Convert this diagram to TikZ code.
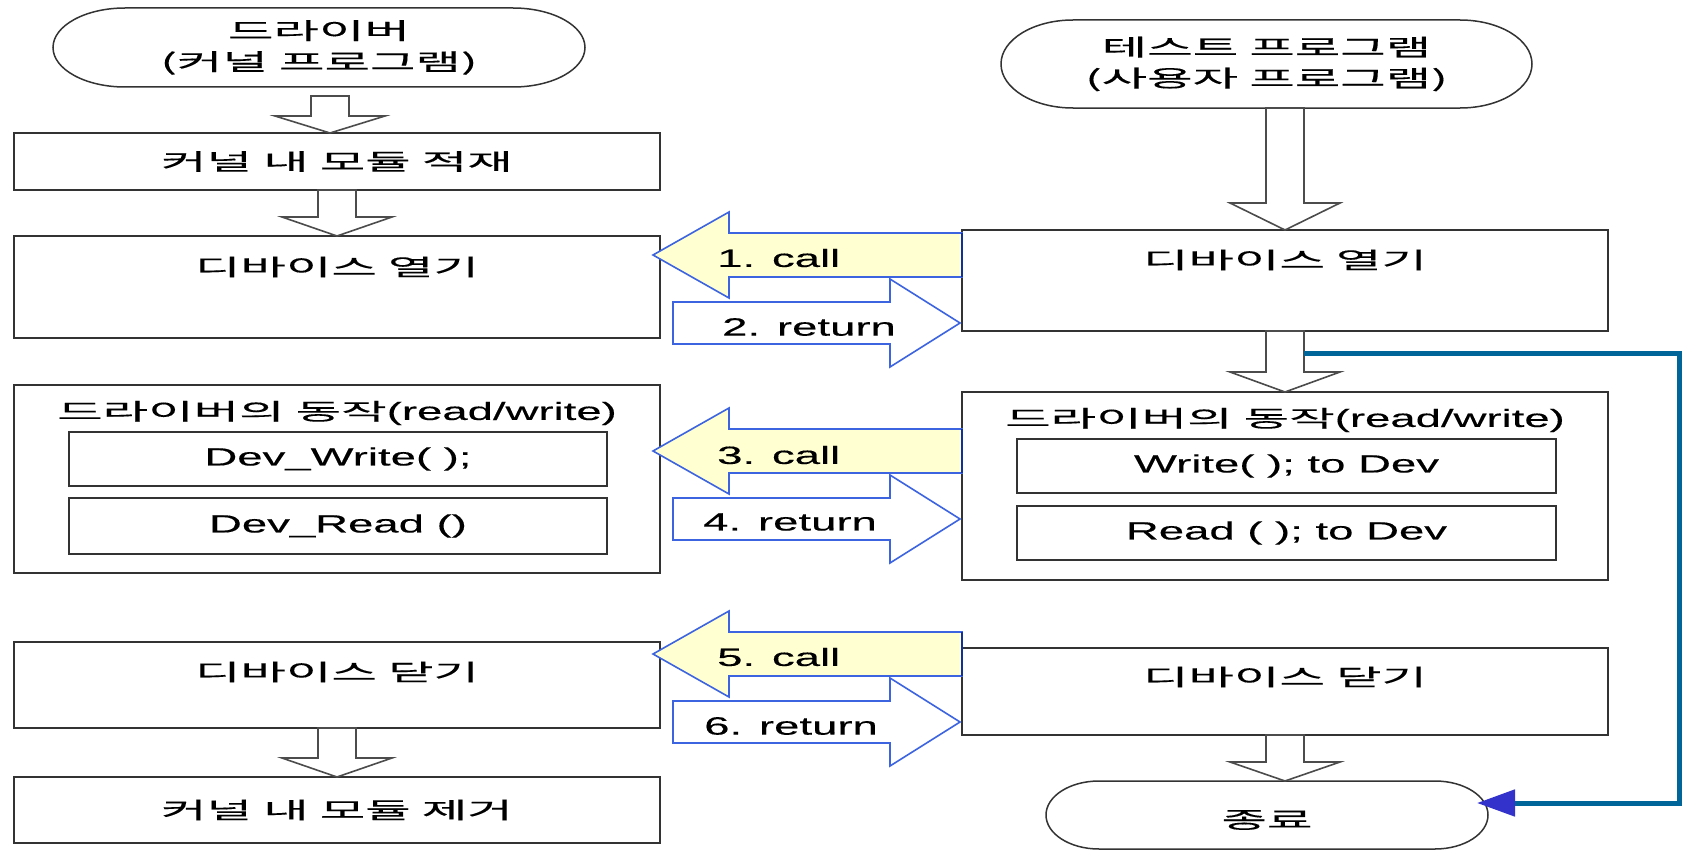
\documentclass[tikz,border=0pt]{standalone}
\usepackage{fontspec}
\setmainfont{Liberation Sans}[FakeStretch=1.82,FakeBold=0.3]
\newfontfamily\kr{Noto Sans CJK KR}[FakeStretch=2.15,FakeBold=0.3]
\usetikzlibrary{calc,arrows.meta}

\definecolor{boxline}{HTML}{333333}
\definecolor{edgeblue}{HTML}{3C64E1}
\definecolor{calledge}{HTML}{1030A0}
\definecolor{callfill}{HTML}{FFFFD2}
\definecolor{loopblue}{HTML}{006699}
\definecolor{headblue}{HTML}{3333CC}

% Korean text inside Latin lines
\newcommand\hg[1]{{\kr\fontsize{23}{31}\selectfont #1}}

\tikzset{
  box/.style={draw=boxline, line width=2pt, inner sep=0pt, outer sep=0pt},
  stadtext/.style={inner sep=0pt, outer sep=0pt, align=center,
                   font=\kr\fontsize{23}{31}\selectfont},
  stad/.style={draw=boxline, line width=1.5pt},
  kr/.style={inner sep=0pt, font=\kr\fontsize{23}{31}\selectfont},
  lbl/.style={inner sep=0pt, font=\fontsize{25}{31}\selectfont},
  hollow/.style={draw=black!70, line width=1.6pt, fill=white, line join=miter},
  callshape/.style={draw=edgeblue, line width=1.6pt, fill=callfill},
  calledgeline/.style={draw=calledge, line width=2.5pt},
  retshape/.style={draw=edgeblue, line width=1.6pt, fill=white},
  loopline/.style={draw=loopblue, line width=5pt},
}

% stadium outline around a named node: #1 node, #2 end x-radius, #3 end y-radius
\newcommand\stadiumaround[3]{%
  \draw[stad] let \p1=(#1.north west), \p2=(#1.south east) in
    (\x1+#2pt,\y1) -- (\x2-#2pt,\y1)
    arc[start angle=90, end angle=-90, x radius=#2pt, y radius=#3pt]
    -- (\x1+#2pt,\y2)
    arc[start angle=270, end angle=90, x radius=#2pt, y radius=#3pt] -- cycle;}

% hollow downward block arrow: #1 x, #2 upper anchor, #3 lower anchor, #4 gap, #5 head height
\newcommand\downblock[5]{%
  \draw[hollow] let \p1=(#2), \p2=(#3) in
    (#1pt-19pt,\y1-#4pt) -- (#1pt-19pt,\y2+#5pt) -- (#1pt-55pt,\y2+#5pt)
    -- (#1pt,\y2) -- (#1pt+55pt,\y2+#5pt) -- (#1pt+19pt,\y2+#5pt)
    -- (#1pt+19pt,\y1-#4pt) -- cycle;}

% leftward "call" block arrow: #1 centre y, #2 left box, #3 right box
\newcommand\callarrow[3]{%
  \draw[callshape] let \p1=(#2.east), \p2=(#3.west) in
    (\x1-7pt,-#1pt) -- (\x1+69pt,-#1pt+43pt) -- (\x1+69pt,-#1pt+22pt)
    -- (\x2,-#1pt+22pt) -- (\x2,-#1pt-22pt) -- (\x1+69pt,-#1pt-22pt)
    -- (\x1+69pt,-#1pt-43pt) -- cycle;
  \draw[calledgeline] let \p2=(#3.west) in (\x2,-#1pt+22pt) -- (\x2,-#1pt-22pt);}

% rightward "return" block arrow: #1 centre y, #2 left box, #3 right box
\newcommand\retarrow[3]{%
  \draw[retshape] let \p1=(#2.east), \p2=(#3.west) in
    (\x1+13pt,-#1pt+21pt) -- (\x2-72pt,-#1pt+21pt) -- (\x2-72pt,-#1pt+44pt)
    -- (\x2-2pt,-#1pt) -- (\x2-72pt,-#1pt-44pt) -- (\x2-72pt,-#1pt-21pt)
    -- (\x1+13pt,-#1pt-21pt) -- cycle;}

\begin{document}
\begin{tikzpicture}[x=1pt,y=-1pt]
\useasboundingbox (0,0) rectangle (1682,851);
\fill[white] (0,0) rectangle (1682,851);

% ---------- driver side (kernel) ----------
\node[stadtext, minimum width=532pt, minimum height=79pt] (s1) at (319,47.5)
  {드라이버\\(커널 프로그램)};
\stadiumaround{s1}{72}{39.5}

\node[box, minimum width=646pt, minimum height=57pt] (b1) at (337,161.5) {};
\node[kr] (b1t) at (b1.center) {커널 내 모듈 적재};

\node[box, minimum width=646pt, minimum height=102pt] (b2) at (337,287) {};
\node[kr] (b2t) at ([yshift=-31pt]b2.north) {디바이스 열기};

\node[box, minimum width=646pt, minimum height=188pt] (b3) at (337,479) {};
\node[lbl] (b3t) at ([yshift=-28pt]b3.north) {\hg{드라이버의 동작}(read/write)};
\node[box, lbl, minimum width=538pt, minimum height=54pt] (b3w) at (338,459) {Dev\_Write( );};
\node[box, lbl, minimum width=538pt, minimum height=56pt] (b3r) at (338,526) {Dev\_Read ()};

\node[box, minimum width=646pt, minimum height=86pt] (b4) at (337,685) {};
\node[kr] (b4t) at ([yshift=-30pt]b4.north) {디바이스 닫기};

\node[box, minimum width=646pt, minimum height=66pt] (b5) at (337,810) {};
\node[kr] (b5t) at (b5.center) {커널 내 모듈 제거};

\downblock{330}{s1.south}{b1.north}{9}{17}
\downblock{337}{b1.south}{b2.north}{0}{19}
\downblock{337}{b4.south}{b5.north}{0}{19}

% ---------- test program side (user) ----------
\node[stadtext, minimum width=531pt, minimum height=88pt] (s2) at (1266.5,64)
  {테스트 프로그램\\(사용자 프로그램)};
\stadiumaround{s2}{72}{44}

\node[box, minimum width=646pt, minimum height=101pt] (r1) at (1285,280.5) {};
\node[kr] (r1t) at ([yshift=-30pt]r1.north) {디바이스 열기};

\node[box, minimum width=646pt, minimum height=188pt] (r2) at (1285,486) {};
\node[lbl] (r2t) at ([yshift=-28pt]r2.north) {\hg{드라이버의 동작}(read/write)};
\node[box, lbl, minimum width=539pt, minimum height=54pt] (r2w) at (1286.5,466) {Write( ); to Dev};
\node[box, lbl, minimum width=539pt, minimum height=54pt] (r2r) at (1286.5,533) {Read ( ); to Dev};

\node[box, minimum width=646pt, minimum height=87pt] (r3) at (1285,691.5) {};
\node[kr] (r3t) at ([yshift=-29pt]r3.north) {디바이스 닫기};

\node[minimum width=442pt, minimum height=68pt, inner sep=0pt, outer sep=0pt] (s3) at (1267,815) {};
\stadiumaround{s3}{53}{34}
\node[kr] (s3t) at ([yshift=-5pt]s3.center) {종료};

\downblock{1285}{s2.south}{r1.north}{0}{27}
\downblock{1285}{r1.south}{r2.north}{0}{20}
\downblock{1285}{r3.south}{s3.north}{0}{19}

% ---------- calls and returns between the two sides ----------
\callarrow{255}{b2}{r1}
\retarrow{323}{b2}{r1}
\callarrow{451}{b3}{r2}
\retarrow{519}{b3}{r2}
\callarrow{654}{b4}{r3}
\retarrow{722}{b4}{r3}

\node[lbl, anchor=west] (c1) at (717,258) {1. call};
\node[lbl, anchor=west] (t2) at (722,327) {2. return};
\node[lbl, anchor=west] (c3) at (717,455) {3. call};
\node[lbl, anchor=west] (t4) at (703,522) {4. return};
\node[lbl, anchor=west] (c5) at (717,657) {5. call};
\node[lbl, anchor=west] (t6) at (704,726) {6. return};

% ---------- loop back to the end ----------
\coordinate (loopfrom) at ($(r1.south)+(19,22)$);
\coordinate (rail) at (1679,0);
\coordinate (loopto) at ($(s3.east)+(-11,-12)$);
\draw[loopline, -{Triangle[length=38pt,width=26pt,color=headblue]}]
  (loopfrom) -- (loopfrom -| rail) -- (rail |- loopto) -- (loopto);
\end{tikzpicture}
\end{document}
